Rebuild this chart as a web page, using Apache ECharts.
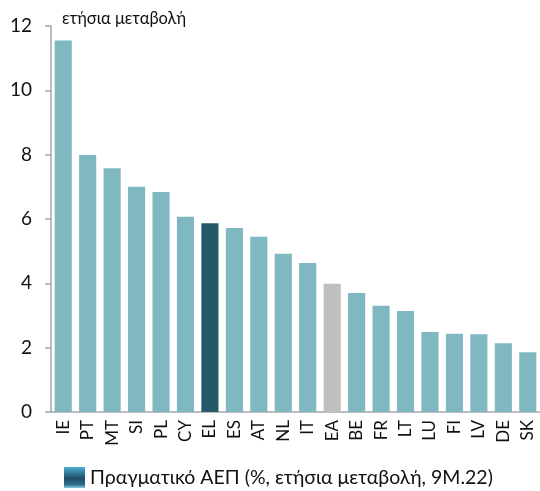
<!DOCTYPE html>
<html>
<head>
<meta charset="utf-8">
<script src="https://cdn.jsdelivr.net/npm/echarts@6/dist/echarts.min.js"></script>
<style>
  html, body { margin: 0; padding: 0; background: #fff; }
  #chart { width: 540px; height: 491px; }
</style>
</head>
<body>
<div id="chart"></div>
<script>
// Real GDP, annual change (%), 9M.22
const countries = ['IE','PT','MT','SI','PL','CY','EL','ES','AT','NL','IT','EA','BE','FR','LT','LU','FI','LV','DE','SK'];
const growth = [11.55, 7.99, 7.58, 7.0, 6.84, 6.07, 5.87, 5.72, 5.45, 4.92, 4.63, 3.99, 3.70, 3.30, 3.14, 2.49, 2.43, 2.42, 2.14, 1.86];
const yTicks = [0, 2, 4, 6, 8, 10, 12];
const seriesName = 'Πραγματικό ΑΕΠ (%, ετήσια μεταβολή, 9Μ.22)';
const unitLabel = 'ετήσια μεταβολή';

const FONT = 'Lato, "Open Sans", sans-serif';
const baseColor = '#7fb8c0';
const highlight = { EL: '#245a68', EA: '#bfbfbf' };

const chart = echarts.init(document.getElementById('chart'));
chart.setOption({
  animation: false,
  textStyle: { fontFamily: FONT },
  grid: { left: 51, right: -1, top: 26, bottom: 79 },
  graphic: [{
    type: 'text', left: 62, top: 10,
    style: { text: unitLabel, font: '16.5px ' + FONT, fill: '#111' }
  }],
  legend: {
    top: 462, left: 59,
    itemWidth: 21, itemHeight: 21, itemGap: 7,
    textStyle: { fontSize: 19.5, color: '#111', fontFamily: FONT },
    data: [{
      name: seriesName, icon: 'rect',
      itemStyle: {
        color: new echarts.graphic.LinearGradient(0, 0, 0, 1, [
          { offset: 0, color: '#4eaed0' },
          { offset: 0.55, color: '#1f4c68' },
          { offset: 0.85, color: '#2f6f8c' },
          { offset: 1, color: '#8fd0e6' }
        ])
      }
    }]
  },
  xAxis: {
    type: 'category', data: countries,
    axisLine: { lineStyle: { color: '#a6a6a6', width: 1.5 } },
    axisTick: { show: false },
    axisLabel: { rotate: 90, margin: 8, fontSize: 17, color: '#111', fontFamily: FONT }
  },
  yAxis: {
    type: 'value', min: yTicks[0], max: yTicks[yTicks.length - 1], interval: 2,
    splitLine: { show: false },
    axisLine: { show: true, lineStyle: { color: '#a6a6a6', width: 1.5 } },
    axisTick: { show: true, length: 6, lineStyle: { color: '#a6a6a6', width: 1.5 } },
    axisLabel: { margin: 19, fontSize: 19, color: '#111', fontFamily: FONT }
  },
  series: [{
    name: seriesName, type: 'bar',
    barCategoryGap: '30%',
    data: growth.map((v, i) => ({
      value: v,
      itemStyle: { color: highlight[countries[i]] || baseColor }
    }))
  }]
});
</script>
</body>
</html>
